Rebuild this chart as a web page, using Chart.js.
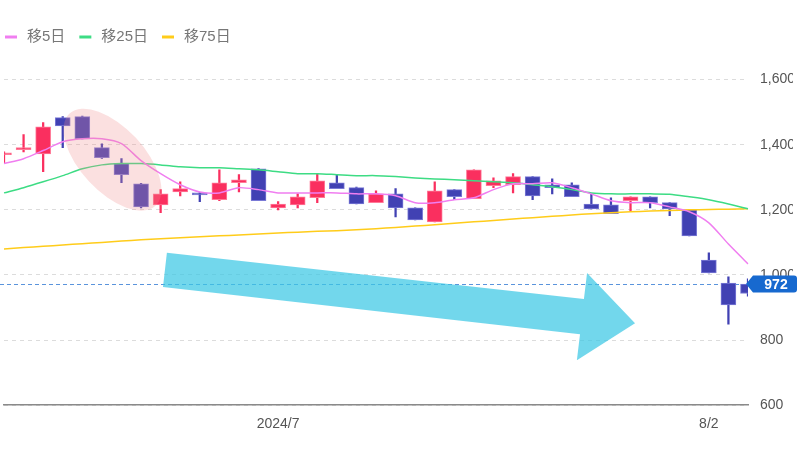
<!DOCTYPE html>
<html lang="ja">
<head>
<meta charset="utf-8">
<title>株価チャート</title>
<script src="https://cdn.jsdelivr.net/npm/chart.js@4.4.1/dist/chart.umd.min.js"></script>
<style>
  html, body { margin: 0; padding: 0; background: #fff; }
  #wrap { width: 800px; height: 450px; }
</style>
</head>
<body>
<div id="wrap"><canvas id="chart" width="800" height="450"></canvas></div>
<script>
// --- 1. Data ---
const xLabels = ['', '', '', '', '', '', '', '', '', '', '', '', '', '', '2024/7', '', '', '', '', '',
                 '', '', '', '', '', '', '', '', '', '', '', '', '', '', '', '', '8/2', '', ''];

const opens  = [1369, 1385, 1372, 1483, 1486, 1391, 1342, 1280, 1215, 1255, 1252, 1231, 1283, 1326, 1206, 1215, 1237, 1283, 1268, 1222,
                1249, 1206, 1163, 1262, 1234, 1274, 1277, 1302, 1277, 1277, 1218, 1215, 1228, 1240, 1222, 1200, 1046, 975, 972];
const highs  = [1378, 1431, 1468, 1486, 1488, 1403, 1357, 1281, 1262, 1286, 1253, 1323, 1308, 1327, 1225, 1249, 1311, 1308, 1270, 1258,
                1265, 1206, 1286, 1262, 1323, 1298, 1311, 1302, 1295, 1283, 1249, 1237, 1240, 1240, 1222, 1200, 1068, 994, 988];
const lows   = [1345, 1378, 1317, 1391, 1418, 1358, 1283, 1206, 1191, 1243, 1225, 1228, 1255, 1228, 1200, 1206, 1222, 1265, 1218, 1222,
                1178, 1169, 1163, 1231, 1234, 1268, 1252, 1231, 1249, 1240, 1203, 1188, 1197, 1206, 1182, 1120, 1006, 849, 935];
const closes = [1375, 1391, 1455, 1458, 1418, 1360, 1308, 1209, 1249, 1265, 1246, 1283, 1292, 1228, 1218, 1240, 1289, 1265, 1218, 1249,
                1206, 1169, 1258, 1240, 1323, 1289, 1302, 1243, 1268, 1240, 1203, 1188, 1240, 1222, 1203, 1120, 1006, 908, 943];

const ma5  = [1342, 1357, 1382, 1409, 1418, 1418, 1403, 1351, 1311, 1277, 1255, 1252, 1268, 1262, 1252, 1252, 1252, 1252, 1249, 1249,
              1243, 1222, 1222, 1231, 1237, 1262, 1280, 1280, 1283, 1268, 1249, 1228, 1222, 1222, 1209, 1194, 1160, 1095, 1034];
const ma25 = [1252, 1268, 1286, 1305, 1326, 1338, 1342, 1342, 1338, 1332, 1329, 1329, 1326, 1323, 1317, 1311, 1311, 1308, 1305, 1305,
              1302, 1298, 1295, 1292, 1289, 1286, 1283, 1277, 1271, 1262, 1252, 1249, 1249, 1249, 1248, 1240, 1231, 1218, 1203];
const ma75 = [1080, 1084, 1088, 1092, 1096, 1100, 1104, 1108, 1111, 1114, 1117, 1120, 1123, 1126, 1129, 1131, 1134, 1136, 1139, 1142,
              1146, 1150, 1154, 1159, 1163, 1167, 1172, 1176, 1180, 1184, 1188, 1191, 1194, 1196, 1198, 1200, 1201, 1202, 1203];

const lastPrice = 972;
const yMin = 600, yMax = 1700, yStep = 200;

// annotations, in (index, price) space
const arrowPoints = [[8.32, 1068], [29.62, 926], [29.78, 1006], [32.23, 852], [29.26, 738], [29.42, 818], [8.12, 963]];
const ellipseCenter = [5.54, 1354];

// --- 2. Colours ---
const UP = '#fa2f5f', UP_EDGE = '#ff7a98';
const DOWN = '#4141b3', DOWN_EDGE = '#7a7ad6';
const FONT = 'Arial, "Liberation Sans", "Noto Sans CJK JP", sans-serif';

const bodyColors = closes.map((c, i) => c >= opens[i] ? UP : DOWN);
const edgeColors = closes.map((c, i) => c >= opens[i] ? UP_EDGE : DOWN_EDGE);

// --- 3. Plugins: legend, price line / tag, drawn annotations ---
const legendPlugin = {
    id: 'legendPlugin',
    afterDraw(chart) {
        const { ctx } = chart;
        const y = 37;
        let x = 5;
        ctx.save();
        ctx.font = '15px ' + FONT;
        ctx.textBaseline = 'middle';
        chart.data.datasets.filter(d => d.type === 'line').forEach(d => {
            ctx.strokeStyle = d.borderColor;
            ctx.lineWidth = 3;
            ctx.beginPath();
            ctx.moveTo(x, y);
            ctx.lineTo(x + 12, y);
            ctx.stroke();
            ctx.fillStyle = '#777';
            ctx.fillText(d.label, x + 22, y);
            x += 22 + ctx.measureText(d.label).width + 14;
        });
        ctx.restore();
    }
};

const pricePlugin = {
    id: 'pricePlugin',
    beforeDatasetsDraw(chart) {
        const { ctx, chartArea } = chart;
        const y = Math.round(chart.scales.y.getPixelForValue(lastPrice)) + 0.5;
        ctx.save();
        ctx.strokeStyle = '#5a94dc';
        ctx.lineWidth = 1;
        ctx.setLineDash([4, 3]);
        ctx.beginPath();
        ctx.moveTo(0, y);
        ctx.lineTo(chartArea.right, y);
        ctx.stroke();
        ctx.restore();
    },
    afterDraw(chart) {
        const { ctx, chartArea } = chart;
        const y = Math.round(chart.scales.y.getPixelForValue(lastPrice));
        const x0 = chartArea.right - 2, x1 = x0 + 7, x2 = 797, h = 17;
        ctx.save();
        ctx.fillStyle = '#1769cf';
        ctx.beginPath();
        ctx.moveTo(x0, y);
        ctx.lineTo(x1, y - h / 2);
        ctx.lineTo(x2 - 3, y - h / 2);
        ctx.quadraticCurveTo(x2, y - h / 2, x2, y - h / 2 + 3);
        ctx.lineTo(x2, y + h / 2 - 3);
        ctx.quadraticCurveTo(x2, y + h / 2, x2 - 3, y + h / 2);
        ctx.lineTo(x1, y + h / 2);
        ctx.closePath();
        ctx.fill();
        ctx.fillStyle = '#fff';
        ctx.font = 'bold 14px ' + FONT;
        ctx.textAlign = 'center';
        ctx.textBaseline = 'middle';
        ctx.fillText(String(lastPrice), (x1 + x2) / 2 + 1, y + 1);
        ctx.restore();
    }
};

const markPlugin = {
    id: 'markPlugin',
    afterDatasetsDraw(chart) {
        const { ctx } = chart;
        const sx = chart.scales.x, sy = chart.scales.y;
        ctx.save();
        // highlighted drop
        ctx.fillStyle = 'rgba(240, 140, 140, 0.27)';
        ctx.beginPath();
        ctx.ellipse(sx.getPixelForValue(ellipseCenter[0]), sy.getPixelForValue(ellipseCenter[1]),
                    63, 32, 47 * Math.PI / 180, 0, Math.PI * 2);
        ctx.fill();
        // trend arrow
        ctx.fillStyle = 'rgba(60, 200, 228, 0.72)';
        ctx.beginPath();
        arrowPoints.forEach(([i, v], k) => {
            const px = sx.getPixelForValue(i), py = sy.getPixelForValue(v);
            if (k === 0) ctx.moveTo(px, py); else ctx.lineTo(px, py);
        });
        ctx.closePath();
        ctx.fill();
        ctx.restore();
    }
};

// --- 4. Chart ---
const lineSet = (label, data, color) => ({
    type: 'line', label, data, borderColor: color, backgroundColor: color,
    borderWidth: 1.5, pointRadius: 0, tension: 0.25, order: 0
});

new Chart(document.getElementById('chart'), {
    type: 'bar',
    data: {
        labels: xLabels,
        datasets: [
            lineSet('移5日', ma5, '#f07ef0'),
            lineSet('移25日', ma25, '#3ddc84'),
            lineSet('移75日', ma75, '#ffcc1a'),
            {
                label: 'body', data: opens.map((o, i) => [o, closes[i]]),
                backgroundColor: bodyColors, borderColor: edgeColors, borderWidth: 1, borderSkipped: false,
                barThickness: 15, grouped: false, order: 1
            },
            {
                label: 'wick', data: lows.map((l, i) => [l, highs[i]]),
                backgroundColor: bodyColors, borderWidth: 0,
                barThickness: 1.6, grouped: false, order: 2
            }
        ]
    },
    options: {
        responsive: false,
        animation: false,
        events: [],
        layout: { padding: { left: 4, right: 7, top: 47, bottom: 17 } },
        plugins: {
            tooltip: { enabled: false },
            legend: { display: false }
        },
        scales: {
            x: {
                offset: false,
                grid: { display: false, drawTicks: true, tickLength: 11 },
                border: { display: true, color: '#8a8a8a', width: 1.5 },
                ticks: { autoSkip: false, maxRotation: 0, padding: 0, color: '#555', font: { family: FONT, size: 14 } }
            },
            y: {
                position: 'right',
                min: yMin,
                max: yMax,
                afterFit: (scale) => { scale.width = 45; },
                grid: { color: '#dcdcdc', drawTicks: true, tickLength: 12, tickColor: 'rgba(0,0,0,0)' },
                border: { display: false, dash: [4, 4] },
                ticks: {
                    stepSize: yStep,
                    includeBounds: false,
                    padding: 0,
                    color: '#555',
                    font: { family: FONT, size: 14 },
                    callback: (v) => v.toLocaleString('en-US')
                }
            }
        }
    },
    plugins: [legendPlugin, pricePlugin, markPlugin]
});
</script>
</body>
</html>
